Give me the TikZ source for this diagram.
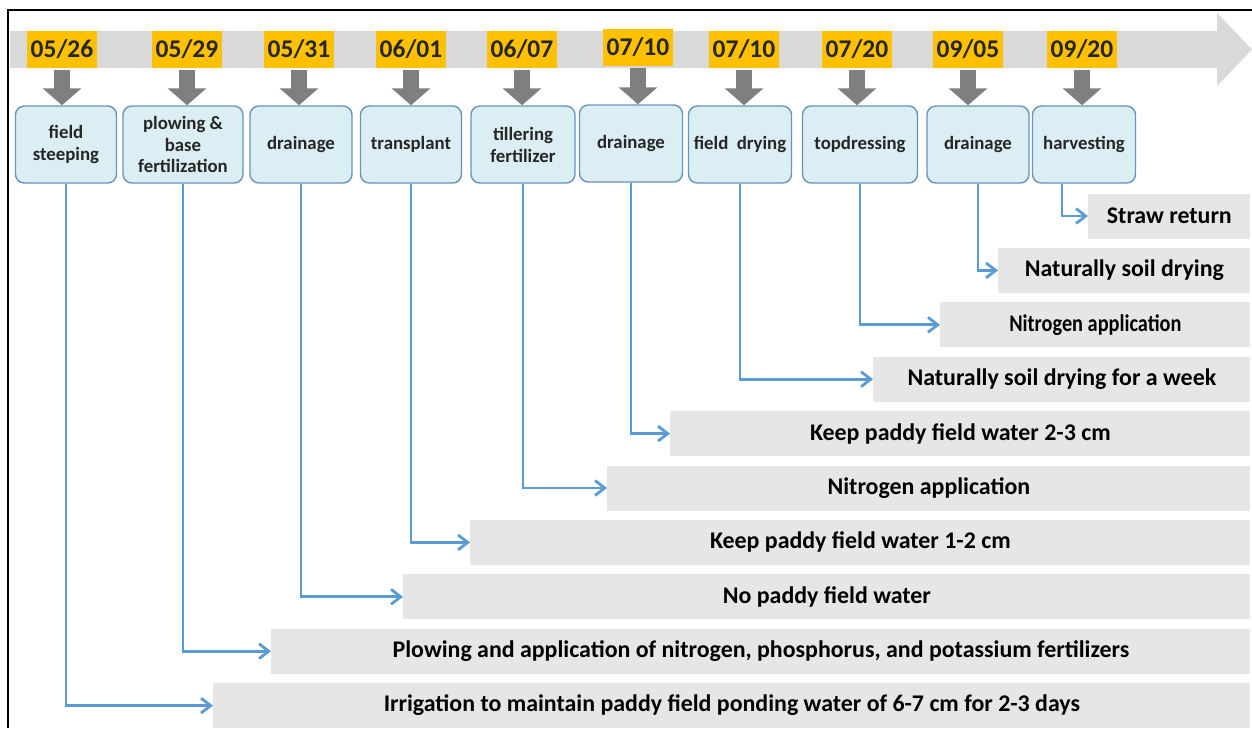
\documentclass[tikz,border=0pt]{standalone}
\usepackage{fontspec}
\usepackage{graphicx}
\setmainfont{Carlito}
\usetikzlibrary{arrows.meta,positioning}

\newlength\pix
\setlength\pix{0.02cm}

\definecolor{datebg}{HTML}{FFC000}
\definecolor{bandgray}{HTML}{D9D9D9}
\definecolor{stepfill}{HTML}{DAEEF3}
\definecolor{stepline}{HTML}{6A93B8}
\definecolor{linkblue}{HTML}{5B9BD5}
\definecolor{barfill}{HTML}{E7E6E6}
\definecolor{dropgray}{HTML}{7F7F7F}

\tikzset{
  date/.style={fill=datebg, text=black!85, inner sep=0pt,
    minimum width=70*\pix, minimum height=37*\pix,
    font=\fontsize{14.5}{16}\selectfont\bfseries},
  stepbox/.style={draw=stepline, fill=stepfill, line width=0.8pt,
    rounded corners=5pt, align=center, inner sep=1pt, text=black!85,
    minimum height=77*\pix, font=\fontsize{10.7}{12.5}\selectfont\bfseries},
  bar/.style={fill=barfill, anchor=west, inner sep=0pt,
    minimum height=45*\pix, font=\fontsize{13.6}{16}\selectfont\bfseries},
  drop/.style={dropgray, line width=9.1pt, shorten <=1pt,
    -{Triangle[length=9.7pt, width=21.6pt]}},
  link/.style={linkblue, line width=1.6pt,
    -{Straight Barb[length=5.5pt, width=8.5pt]}},
}

\begin{document}
\begin{tikzpicture}[x=\pix, y=-\pix]
    \useasboundingbox (0,0) rectangle (1252,728);

    % moldura
    \draw[line width=1.5pt] (8,728) -- (8,10) -- (1252,10);

    % linha do tempo
    \fill[bandgray] (10,31) -- (1217,31) -- (1217,13) -- (1252,49.5)
        -- (1217,86) -- (1217,68) -- (10,68) -- cycle;

    % datas
    \node[date] (d1) at (62,49.5) {05/26};
    \node[date] (d2) at (187,49.5) {05/29};
    \node[date] (d3) at (299,49.5) {05/31};
    \node[date] (d4) at (411,49.5) {06/01};
    \node[date] (d5) at (522,49.5) {06/07};
    \node[date] (d6) at (638,47.5) {07/10};
    \node[date] (d7) at (744,49.5) {07/10};
    \node[date] (d8) at (857,49.5) {07/20};
    \node[date] (d9) at (968,49.5) {09/05};
    \node[date] (d10) at (1082,49.5) {09/20};

    % etapas
    \node[stepbox, minimum width=101*\pix] (b1) at (66,144.5) {field\\steeping};
    \node[stepbox, minimum width=120*\pix] (b2) at (183,144.5) {plowing \&\\base\\fertilization};
    \node[stepbox, minimum width=102*\pix] (b3) at (301,144.5) {drainage};
    \node[stepbox, minimum width=101*\pix] (b4) at (411,144.5) {transplant};
    \node[stepbox, minimum width=104*\pix] (b5) at (523,144.5) {tillering\\fertilizer};
    \node[stepbox, minimum width=103*\pix] (b6) at (631,143.5) {drainage};
    \node[stepbox, minimum width=103*\pix] (b7) at (740,144.5) {field\ \ drying};
    \node[stepbox, minimum width=115*\pix] (b8) at (860,144.5) {topdressing};
    \node[stepbox, minimum width=102*\pix] (b9) at (978,144.5) {drainage};
    \node[stepbox, minimum width=103*\pix] (b10) at (1084,144.5) {harvesting};

    % setas cinzas
    \foreach \i in {1,...,10}
        \draw[drop] (d\i.south) -- (d\i.south |- b\i.north);

    % barras de manejo
    \node[bar, minimum width=162*\pix] (r10) at (1088,216) {Straw return};
    \node[bar, minimum width=252*\pix] (r9) at (998,270.4) {Naturally soil drying};
    \node[bar, minimum width=310*\pix] (r8) at (940,324.8) {\scalebox{0.85}[1]{Nitrogen application}};
    \node[bar, minimum width=377*\pix] (r7) at (873,379.2) {Naturally soil drying for a week};
    \node[bar, minimum width=580*\pix] (r6) at (670,433.6) {Keep paddy field water 2-3 cm};
    \node[bar, minimum width=643*\pix] (r5) at (607,488) {Nitrogen application};
    \node[bar, minimum width=780*\pix] (r4) at (470,542.4) {Keep paddy field water 1-2 cm};
    \node[bar, minimum width=847*\pix] (r3) at (403,596.8) {No paddy field water};
    \node[bar, minimum width=979*\pix] (r2) at (271,651.2) {Plowing and application of nitrogen, phosphorus, and potassium fertilizers};
    \node[bar, minimum width=1037*\pix] (r1) at (213,705.6) {Irrigation to maintain paddy field ponding water of 6-7 cm for 2-3 days};

    % ligacoes
    \foreach \i in {1,...,9}
        \draw[link] (b\i.south) |- (r\i.west);
    \draw[link] ([xshift=-22*\pix]b10.south) |- (r10.west);

\end{tikzpicture}
\end{document}
